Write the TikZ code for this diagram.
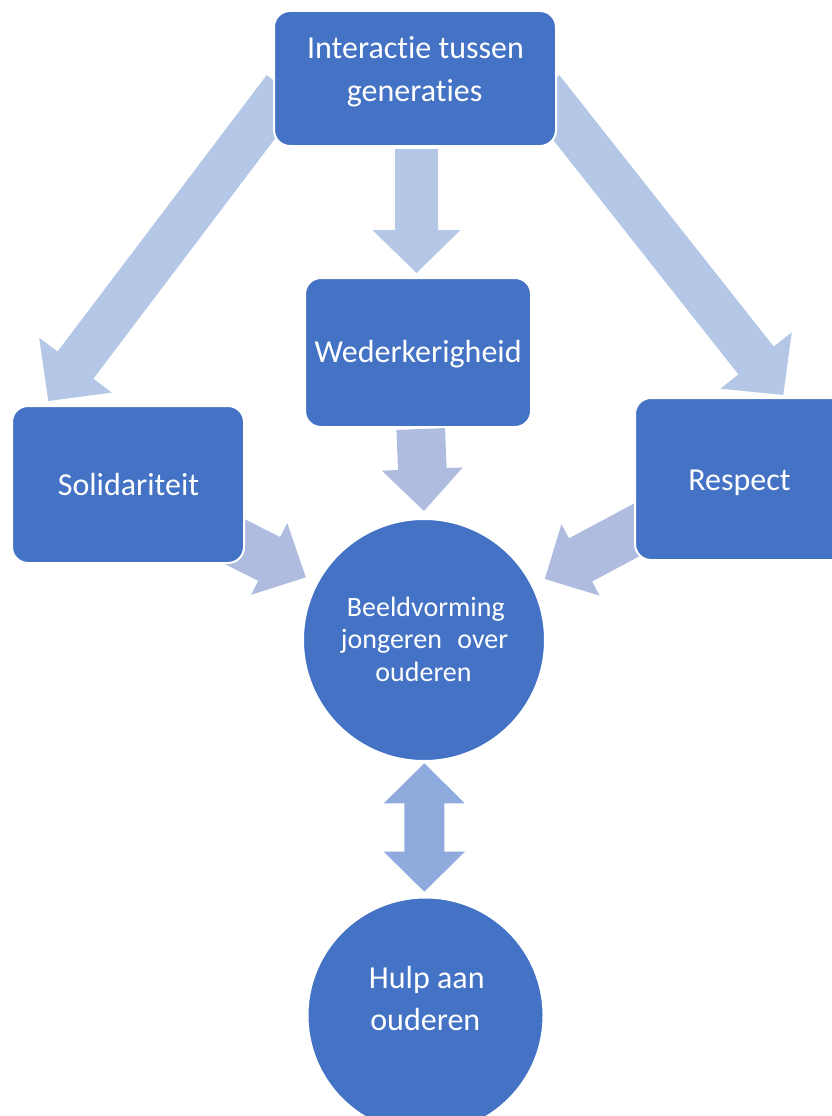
\documentclass[tikz,border=0pt]{standalone}
\usepackage{fontspec}
\setmainfont[Ligatures={NoCommon,NoContextual}]{Carlito}
\usetikzlibrary{calc}
\definecolor{boxblue}{HTML}{4472C4}
\definecolor{arrA}{HTML}{B4C7E7}
\definecolor{arrB}{HTML}{AFBCDF}
\definecolor{arrC}{HTML}{8FAADC}
\newcommand{\blockarrow}[6]{% fill, tail, tip, half shaft, half head, head length
  \coordinate (ba-h) at ($(#3)!#6!(#2)$);
  \fill[#1] ($(#2)!#4!90:(#3)$) -- ($(ba-h)!#4!90:(#3)$) -- ($(ba-h)!#5!90:(#3)$) -- (#3)
    -- ($(ba-h)!#5!-90:(#3)$) -- ($(ba-h)!#4!-90:(#3)$) -- ($(#2)!#4!-90:(#3)$) -- cycle;
}
\begin{document}
\begin{tikzpicture}[x=1pt,y=-1pt,
  box/.style={draw=white, line width=2pt, fill=boxblue, rounded corners=16pt, inner sep=0pt},
  disc/.style={circle, draw=white, line width=2pt, fill=boxblue, inner sep=0pt},
  lbl/.style={text=white, anchor=base, inner sep=0pt, font=\fontsize{32}{38}\selectfont},
  slbl/.style={lbl, font=\fontsize{28}{33}\selectfont}]
\useasboundingbox (0,0) rectangle (831,1116);
\clip (-2,-2) rectangle (833,1118);

% arrow end points
\coordinate (l-tail) at (284.6,88.7);
\coordinate (l-tip) at (48.3,401);
\coordinate (r-tail) at (541.8,89.2);
\coordinate (r-tip) at (783.3,395);
\coordinate (m-tail) at (416.5,149);
\coordinate (m-tip) at (416.5,273);
\coordinate (w-tail) at (420.7,429);
\coordinate (w-tip) at (424,511);
\coordinate (s-tail) at (225.4,536.9);
\coordinate (s-tip) at (305.8,577.3);
\coordinate (p-tail) at (650.5,522.5);
\coordinate (p-tip) at (544.8,579);
\coordinate (d-top) at (424.3,763.3);
\coordinate (d-bot) at (424.3,891.7);

\blockarrow{arrA}{l-tail}{l-tip}{22.5pt}{45.5pt}{45pt}
\blockarrow{arrA}{r-tail}{r-tip}{22.5pt}{45.5pt}{44pt}
\blockarrow{arrA}{m-tail}{m-tip}{21.5pt}{44pt}{43pt}
\blockarrow{arrB}{w-tail}{w-tip}{24.3pt}{40.5pt}{42pt}
\blockarrow{arrB}{s-tail}{s-tip}{24.5pt}{40.2pt}{41pt}
\blockarrow{arrB}{p-tail}{p-tip}{24.5pt}{40.5pt}{40.5pt}

\fill[arrC] (d-top) -- ($(d-top)+(40.5,40)$) -- ($(d-top)+(20,40)$) -- ($(d-bot)+(20,-40)$)
  -- ($(d-bot)+(40.5,-40)$) -- (d-bot) -- ($(d-bot)+(-40.5,-40)$) -- ($(d-bot)+(-20,-40)$)
  -- ($(d-top)+(-20,40)$) -- ($(d-top)+(-40.5,40)$) -- cycle;

% boxes and circles
\node[box, minimum width=282pt, minimum height=135pt] (top) at (415,78.5) {};
\node[box, minimum width=226pt, minimum height=149pt] (wed) at (418,352.5) {};
\node[box, minimum width=232pt, minimum height=157pt] (sol) at (128,484.5) {};
\node[box, minimum width=240pt, minimum height=162pt] (res) at (755,479) {};
\node[disc, minimum size=242pt] (bv) at (424,640) {};
\node[disc, minimum size=236pt] (hulp) at (425.5,1015.5) {};

% texts
\node[lbl] (t-top1) at (415.5,58.3) {Interact\kern0pt ie tussen};
\node[lbl] (t-top2) at (414.5,101.7) {generat\kern0pt ies};
\node[lbl] (t-wed) at (418,362.7) {Wederkerigheid};
\node[lbl] (t-sol) at (128.5,495) {Solidariteit};
\node[lbl] (t-res) at (739.5,490) {Respect};
\node[slbl] (t-bv1) at (425.8,616.7) {Beeldvorming};
\node[slbl] (t-bv2) at (424.5,648.5) {jongeren\hspace{0.55em}over};
\node[slbl] (t-bv3) at (423.5,681.5) {ouderen};
\node[lbl] (t-h1) at (426.8,988.3) {Hulp aan};
\node[lbl] (t-h2) at (425.3,1030.7) {ouderen};
\end{tikzpicture}
\end{document}
